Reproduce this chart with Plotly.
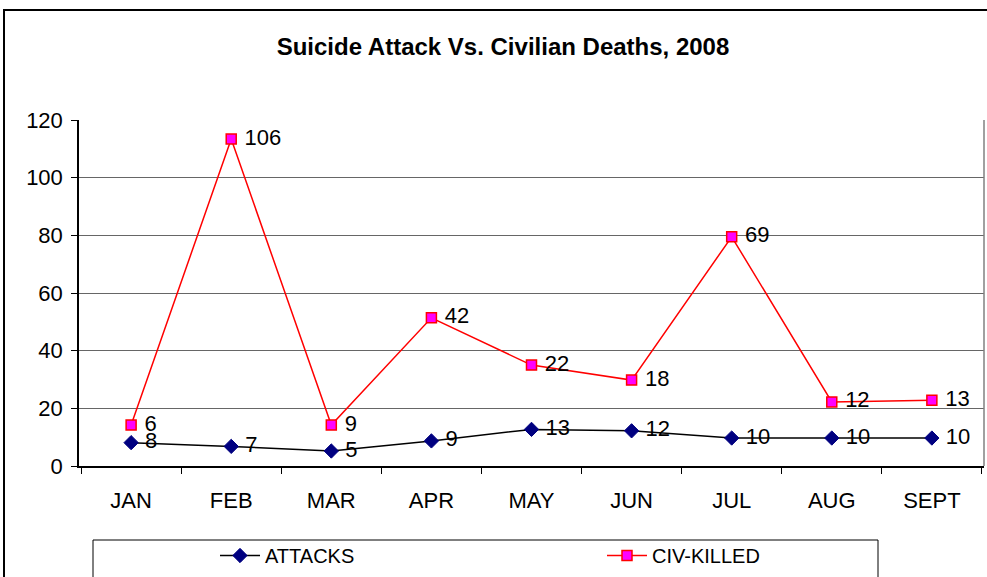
import plotly.graph_objects as go

months = ['JAN', 'FEB', 'MAR', 'APR', 'MAY', 'JUN', 'JUL', 'AUG', 'SEPT']
# plotted positions
attacks = [8.1, 6.8, 5.2, 8.7, 12.7, 12.2, 9.7, 9.7, 9.7]
civ_killed = [14.2, 113.4, 14.2, 51.4, 35.0, 29.8, 79.5, 22.2, 22.8]
# data labels printed next to the points
attacks_labels = ['8', '7', '5', '9', '13', '12', '10', '10', '10']
civ_labels = ['6', '106', '9', '42', '22', '18', '69', '12', '13']

FONT = 'Liberation Sans, Arial, sans-serif'

fig = go.Figure()
fig.add_trace(go.Scatter(
    x=months, y=attacks, name='ATTACKS', mode='lines+markers+text',
    text=[' ' + t for t in attacks_labels], textposition='middle right',
    textfont=dict(size=22, color='black', family=FONT),
    line=dict(color='black', width=1.5),
    marker=dict(symbol='diamond', size=11, color='#000080', line=dict(color='#000080', width=1)),
    cliponaxis=False,
))
fig.add_trace(go.Scatter(
    x=months, y=civ_killed, name='CIV-KILLED', mode='lines+markers+text',
    text=[' ' + t for t in civ_labels], textposition='middle right',
    textfont=dict(size=22, color='black', family=FONT),
    line=dict(color='#FF0000', width=1.5),
    marker=dict(symbol='square', size=10, color='#FF00FF', line=dict(color='#FF0000', width=1.5)),
    cliponaxis=False,
))

W, H = 987, 577
L, R, T, B = 79, 3, 120, 111
pw, ph = W - L - R, H - T - B

def px_x(x):
    return (x - L) / pw

def px_y(y):
    return (H - B - y) / ph

fig.update_layout(
    width=W, height=H,
    margin=dict(l=L, r=R, t=T, b=B, autoexpand=False),
    paper_bgcolor='white', plot_bgcolor='white',
    font=dict(family=FONT, color='black', size=22),
    title=dict(text='<b>Suicide Attack Vs. Civilian Deaths, 2008</b>',
               x=(503 / W), xanchor='center', y=1 - 47 / H, yanchor='middle',
               font=dict(size=24, family=FONT, color='black')),
    showlegend=True,
    legend=dict(orientation='h', x=px_x(215), y=px_y(536), xanchor='left', yanchor='top',
                entrywidth=332, entrywidthmode='pixels', itemwidth=40,
                font=dict(size=20, family=FONT), bgcolor='rgba(0,0,0,0)', borderwidth=0),
    shapes=[
        # outer chart frame
        dict(type='rect', xref='paper', yref='paper',
             x0=px_x(4), x1=px_x(1000), y0=px_y(10), y1=px_y(600),
             line=dict(color='black', width=2), layer='below'),
        # legend box
        dict(type='rect', xref='paper', yref='paper',
             x0=px_x(93), x1=px_x(878), y0=px_y(540), y1=px_y(600),
             line=dict(color='black', width=1)),
        # right border of plot area
        dict(type='line', xref='paper', yref='paper', x0=1, x1=1, y0=0, y1=1,
             line=dict(color='#808080', width=1.5)),
    ],
)
fig.update_xaxes(
    type='category', showgrid=False, showline=True, linecolor='black', linewidth=1.5,
    ticks='outside', tickson='boundaries', ticklen=6, tickcolor='black', automargin=False,
    tickfont=dict(size=22, family=FONT), ticklabelstandoff=14,
)
fig.update_yaxes(
    range=[0, 120], dtick=20, showgrid=True, gridcolor='#666666', gridwidth=1,
    showline=True, linecolor='black', linewidth=1.5, zeroline=False, automargin=False,
    ticks='outside', ticklen=6, tickcolor='black',
    tickfont=dict(size=22, family=FONT), ticklabelstandoff=4,
)

fig.write_html('out.html', config={'displayModeBar': False},
               post_script="document.body.style.margin='0';")
